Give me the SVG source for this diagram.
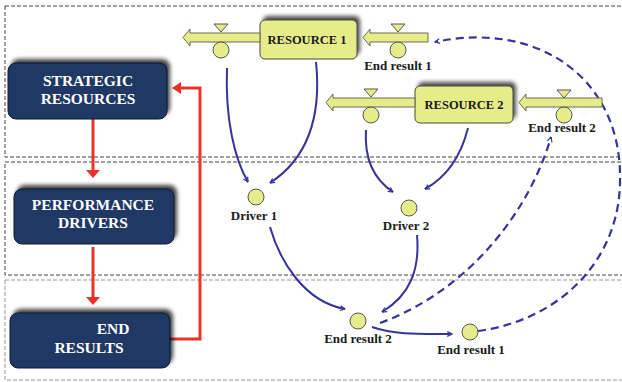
<svg xmlns="http://www.w3.org/2000/svg" width="622" height="382" viewBox="0 0 622 382">
<defs>
<style>
.band{fill:none;stroke:#444;stroke-width:1;stroke-dasharray:4,2}
.dark{fill:#1f3864;stroke:#0d1a33;stroke-width:1}
.darkt{font-family:'Liberation Serif','Times New Roman',serif;font-weight:bold;font-size:15.5px;fill:#ffffff;text-anchor:middle}
.res{fill:#e6ec8a;stroke:#4a4a3a;stroke-width:1}
.rest{font-family:'Liberation Serif','Times New Roman',serif;font-weight:bold;font-size:12.5px;fill:#1a1a1a;text-anchor:middle}
.pipe{fill:#e6ec8a;stroke:#6a6a55;stroke-width:1}
.valve{fill:#e6ec8a;stroke:#555;stroke-width:1}
.lbl{font-family:'Liberation Serif','Times New Roman',serif;font-weight:bold;font-size:13px;fill:#1a1a1a;text-anchor:middle}
.red{fill:none;stroke:#e8322b;stroke-width:3}
.redh{fill:#e8322b}
.blue{fill:none;stroke:#35359b;stroke-width:2;marker-end:url(#ah)}
.bdash{fill:none;stroke:#35359b;stroke-width:2.2;stroke-dasharray:8,5;marker-end:url(#ah)}
</style>
<filter id="sh" x="-20%" y="-30%" width="140%" height="160%">
<feGaussianBlur stdDeviation="2"/>
</filter>
<marker id="ah" viewBox="0 0 10 10" refX="9" refY="5" markerWidth="6" markerHeight="6" orient="auto" markerUnits="userSpaceOnUse">
<path d="M1,1 L9,5 L1,9" fill="none" stroke="#35359b" stroke-width="2"/>
</marker>
</defs>
<rect width="622" height="382" fill="#ffffff"/>
<g id="bands">
<rect class="band" x="5" y="6" width="640" height="151"/>
<rect class="band" x="5" y="162" width="640" height="113"/>
<rect class="band" x="5" y="280" width="640" height="100" style="stroke:#999"/>
</g>
<g id="connectors">
<path class="red" d="M93,119 V171"/>
<path class="redh" d="M86,170 L100,170 L93,178 Z"/>
<path class="red" d="M93,247 V298"/>
<path class="redh" d="M86,297 L100,297 L93,305 Z"/>
<path class="red" d="M170,339 H200 V88 H180"/>
<path class="redh" d="M181,82 L181,94 L172,88 Z"/>
<path class="blue" d="M227,68 C225,120 235,160 248,182"/>
<path class="blue" d="M316,62 C322,120 305,160 270,183"/>
<path class="blue" d="M366,130 C364,160 375,180 393,192"/>
<path class="blue" d="M468,128 C460,160 445,178 425,189"/>
<path class="blue" d="M270,227 C280,262 305,302 345,309"/>
<path class="blue" d="M417,235 C420,270 410,295 382,312"/>
<path class="blue" d="M372,327 C395,335 420,334 452,334"/>
<path class="bdash" d="M380,323 C470,290 530,210 551,137"/>
<path class="bdash" d="M478,331 C560,320 620,260 620,180 C622,80 540,20 435,42"/>
</g>
<g id="strategic-resources">
<rect x="11" y="59" width="159" height="56" rx="8" fill="#000" opacity="0.75" filter="url(#sh)"/>
<rect class="dark" x="8" y="63" width="159" height="56" rx="8"/>
<text class="darkt" x="88" y="86">STRATEGIC</text>
<text class="darkt" x="88" y="104">RESOURCES</text>
</g>
<g id="performance-drivers">
<rect x="17" y="185" width="160" height="55" rx="8" fill="#000" opacity="0.75" filter="url(#sh)"/>
<rect class="dark" x="14" y="189" width="160" height="55" rx="8"/>
<text class="darkt" x="93" y="210">PERFORMANCE</text>
<text class="darkt" x="93" y="228">DRIVERS</text>
</g>
<g id="end-results">
<rect x="13" y="309" width="160" height="55" rx="8" fill="#000" opacity="0.75" filter="url(#sh)"/>
<rect class="dark" x="10" y="313" width="160" height="55" rx="8"/>
<text class="darkt" x="113" y="334">END</text>
<text class="darkt" x="89" y="353">RESULTS</text>
</g>
<g id="resource-1">
<rect x="263" y="16" width="97" height="39" rx="5" fill="#000" opacity="0.7" filter="url(#sh)"/>
<rect class="res" x="260" y="20" width="97" height="39" rx="5"/>
<text class="rest" x="307" y="44">RESOURCE 1</text>
</g>
<g id="resource-2">
<rect x="418" y="82" width="98" height="37" rx="5" fill="#000" opacity="0.7" filter="url(#sh)"/>
<rect class="res" x="415" y="86" width="98" height="37" rx="5"/>
<text class="rest" x="464" y="109">RESOURCE 2</text>
</g>
<g id="flow-r1-out">
<path class="pipe" d="M260,33 H190 V29 L183,37.5 L190,46 V42 H260 Z"/>
<path class="valve" d="M214,24 H228 L221,32 Z"/>
<circle class="valve" cx="221" cy="50" r="8"/>
</g>
<g id="flow-end-result-1">
<path class="pipe" d="M428,33 H370 V29 L363,37.5 L370,46 V42 H428 Z"/>
<path class="valve" d="M391,24 H405 L398,32 Z"/>
<circle class="valve" cx="398" cy="50" r="8"/>
<text class="lbl" x="398" y="70">End result 1</text>
</g>
<g id="flow-r2-out">
<path class="pipe" d="M415,98 H333 V94 L326,102.5 L333,111 V107 H415 Z"/>
<path class="valve" d="M364,89 H378 L371,97 Z"/>
<circle class="valve" cx="371" cy="115" r="8"/>
</g>
<g id="flow-end-result-2">
<path class="pipe" d="M602,98 H526 V94 L519,102.5 L526,111 V107 H602 Z"/>
<path class="valve" d="M557,90 H571 L564,98 Z"/>
<circle class="valve" cx="564" cy="115" r="8"/>
<text class="lbl" x="562" y="132">End result 2</text>
</g>
<g id="driver-1">
<circle class="valve" cx="256" cy="197" r="8"/>
<text class="lbl" x="254" y="220">Driver 1</text>
</g>
<g id="driver-2">
<circle class="valve" cx="409" cy="208" r="8"/>
<text class="lbl" x="406" y="230">Driver 2</text>
</g>
<g id="end-result-2">
<circle class="valve" cx="358" cy="321" r="8"/>
<text class="lbl" x="358" y="343">End result 2</text>
</g>
<g id="end-result-1">
<circle class="valve" cx="470" cy="332" r="8"/>
<text class="lbl" x="471" y="354">End result 1</text>
</g>
</svg>
